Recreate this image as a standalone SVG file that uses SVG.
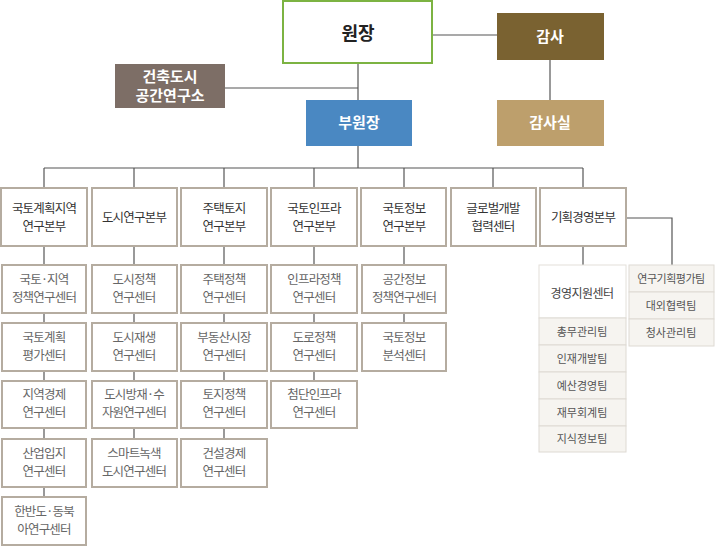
<svg xmlns="http://www.w3.org/2000/svg" width="715" height="546" viewBox="0 0 715 546">
<style>
text{font-family:"Noto Sans CJK KR","Noto Sans",sans-serif;text-anchor:middle}
.b{fill:#fff;stroke:#b5aca0;stroke-width:2}
.h{font-size:12.5px;fill:#333;letter-spacing:-0.8px}
.c{font-size:12.5px;fill:#666;letter-spacing:-0.8px}
.w{font-size:15px;fill:#fff;font-weight:bold}
.t{fill:#f6f4f0;stroke:#dedad3;stroke-width:1}
.s{font-size:11px;fill:#555}
#conn line,#conn polyline{stroke:#555;stroke-width:1.2;fill:none}
</style>
<g id="conn">
<line x1="432" y1="35" x2="497" y2="35"/>
<line x1="550" y1="60" x2="550" y2="100"/>
<line x1="358" y1="63" x2="358" y2="100"/>
<line x1="225" y1="88" x2="358" y2="88"/>
<line x1="358" y1="146" x2="358" y2="168"/>
<line x1="44" y1="168" x2="583" y2="168"/>
<line x1="44" y1="168" x2="44" y2="188"/>
<line x1="134" y1="168" x2="134" y2="188"/>
<line x1="224" y1="168" x2="224" y2="188"/>
<line x1="314" y1="168" x2="314" y2="188"/>
<line x1="404" y1="168" x2="404" y2="188"/>
<line x1="493" y1="168" x2="493" y2="188"/>
<line x1="583" y1="168" x2="583" y2="188"/>
<line x1="44" y1="246" x2="44" y2="496"/>
<line x1="134" y1="246" x2="134" y2="439"/>
<line x1="224" y1="246" x2="224" y2="439"/>
<line x1="314" y1="246" x2="314" y2="381"/>
<line x1="404" y1="246" x2="404" y2="323"/>
<line x1="583" y1="246" x2="583" y2="265"/>
<polyline points="626,218 672,218 672,265"/>
</g>
<g id="n-director"><rect x="283" y="1" width="149" height="62" fill="#fff" stroke="#7cb342" stroke-width="2"/><text x="358" y="40" font-size="18" font-weight="bold" fill="#222">원장</text></g>
<g id="n-audit"><rect x="497" y="13" width="107" height="47" fill="#7a6231"/><text x="550" y="42" class="w">감사</text></g>
<g id="n-aurum"><rect x="115" y="64" width="110" height="44" fill="#7d6e66"/><text x="170" y="82" class="w">건축도시</text><text x="170" y="101" class="w">공간연구소</text></g>
<g id="n-vice"><rect x="306" y="100" width="106" height="46" fill="#4a88c2"/><text x="359" y="128" class="w">부원장</text></g>
<g id="n-auditoffice"><rect x="497" y="100" width="107" height="46" fill="#bd9f6c"/><text x="550" y="128" class="w">감사실</text></g>
<g id="n-h1"><rect class="b" x="1" y="188" width="86" height="58"/><text class="h" x="44" y="213">국토계획지역</text><text class="h" x="44" y="231">연구본부</text></g>
<g id="n-h2"><rect class="b" x="92" y="188" width="85" height="58"/><text class="h" x="134" y="222">도시연구본부</text></g>
<g id="n-h3"><rect class="b" x="181" y="188" width="86" height="58"/><text class="h" x="224" y="213">주택토지</text><text class="h" x="224" y="231">연구본부</text></g>
<g id="n-h4"><rect class="b" x="271" y="188" width="86" height="58"/><text class="h" x="314" y="213">국토인프라</text><text class="h" x="314" y="231">연구본부</text></g>
<g id="n-h5"><rect class="b" x="361" y="188" width="85" height="58"/><text class="h" x="404" y="213">국토정보</text><text class="h" x="404" y="231">연구본부</text></g>
<g id="n-h6"><rect class="b" x="451" y="188" width="85" height="58"/><text class="h" x="493" y="213">글로벌개발</text><text class="h" x="493" y="231">협력센터</text></g>
<g id="n-h7"><rect class="b" x="540" y="188" width="86" height="58"/><text class="h" x="583" y="222">기획경영본부</text></g>
<g id="n-c11"><rect class="b" x="2" y="265" width="84" height="48"/><text class="c" x="44" y="284">국토·지역</text><text class="c" x="44" y="302">정책연구센터</text></g>
<g id="n-c12"><rect class="b" x="2" y="323" width="84" height="48"/><text class="c" x="44" y="342">국토계획</text><text class="c" x="44" y="360">평가센터</text></g>
<g id="n-c13"><rect class="b" x="2" y="381" width="84" height="47"/><text class="c" x="44" y="399">지역경제</text><text class="c" x="44" y="417">연구센터</text></g>
<g id="n-c14"><rect class="b" x="2" y="439" width="84" height="48"/><text class="c" x="44" y="458">산업입지</text><text class="c" x="44" y="476">연구센터</text></g>
<g id="n-c15"><rect class="b" x="2" y="497" width="84" height="48"/><text class="c" x="44" y="516">한반도·동북</text><text class="c" x="44" y="534">아연구센터</text></g>
<g id="n-c21"><rect class="b" x="92" y="265" width="85" height="48"/><text class="c" x="134" y="284">도시정책</text><text class="c" x="134" y="302">연구센터</text></g>
<g id="n-c22"><rect class="b" x="92" y="323" width="85" height="48"/><text class="c" x="134" y="342">도시재생</text><text class="c" x="134" y="360">연구센터</text></g>
<g id="n-c23"><rect class="b" x="92" y="381" width="85" height="47"/><text class="c" x="134" y="399">도시방재·수</text><text class="c" x="134" y="417">자원연구센터</text></g>
<g id="n-c24"><rect class="b" x="92" y="439" width="85" height="48"/><text class="c" x="134" y="458">스마트녹색</text><text class="c" x="134" y="476">도시연구센터</text></g>
<g id="n-c31"><rect class="b" x="181" y="265" width="86" height="48"/><text class="c" x="224" y="284">주택정책</text><text class="c" x="224" y="302">연구센터</text></g>
<g id="n-c32"><rect class="b" x="181" y="323" width="86" height="48"/><text class="c" x="224" y="342">부동산시장</text><text class="c" x="224" y="360">연구센터</text></g>
<g id="n-c33"><rect class="b" x="181" y="381" width="86" height="47"/><text class="c" x="224" y="399">토지정책</text><text class="c" x="224" y="417">연구센터</text></g>
<g id="n-c34"><rect class="b" x="181" y="439" width="86" height="48"/><text class="c" x="224" y="458">건설경제</text><text class="c" x="224" y="476">연구센터</text></g>
<g id="n-c41"><rect class="b" x="271" y="265" width="86" height="48"/><text class="c" x="314" y="284">인프라정책</text><text class="c" x="314" y="302">연구센터</text></g>
<g id="n-c42"><rect class="b" x="271" y="323" width="86" height="48"/><text class="c" x="314" y="342">도로정책</text><text class="c" x="314" y="360">연구센터</text></g>
<g id="n-c43"><rect class="b" x="271" y="381" width="86" height="47"/><text class="c" x="314" y="399">첨단인프라</text><text class="c" x="314" y="417">연구센터</text></g>
<g id="n-c51"><rect class="b" x="362" y="265" width="84" height="48"/><text class="c" x="404" y="284">공간정보</text><text class="c" x="404" y="302">정책연구센터</text></g>
<g id="n-c52"><rect class="b" x="362" y="323" width="84" height="48"/><text class="c" x="404" y="342">국토정보</text><text class="c" x="404" y="360">분석센터</text></g>
<g id="n-mgmt">
<rect x="539" y="265" width="87" height="53" fill="#fff" stroke="#e3e0da"/>
<text x="582" y="298" font-size="12" fill="#444" letter-spacing="-0.5">경영지원센터</text>
<rect class="t" x="539" y="318" width="87" height="27"/><text class="s" x="582" y="336">총무관리팀</text>
<rect class="t" x="539" y="345" width="87" height="27"/><text class="s" x="582" y="363">인재개발팀</text>
<rect class="t" x="539" y="372" width="87" height="27"/><text class="s" x="582" y="390">예산경영팀</text>
<rect class="t" x="539" y="399" width="87" height="27"/><text class="s" x="582" y="417">재무회계팀</text>
<rect class="t" x="539" y="426" width="87" height="26"/><text class="s" x="582" y="443">지식정보팀</text>
</g>
<g id="n-teams">
<rect class="t" x="629" y="265" width="85" height="27"/><text class="s" x="671" y="283" letter-spacing="-0.5">연구기획평가팀</text>
<rect class="t" x="629" y="292" width="85" height="27"/><text class="s" x="671" y="310">대외협력팀</text>
<rect class="t" x="629" y="319" width="85" height="27"/><text class="s" x="671" y="337">청사관리팀</text>
</g>
</svg>
